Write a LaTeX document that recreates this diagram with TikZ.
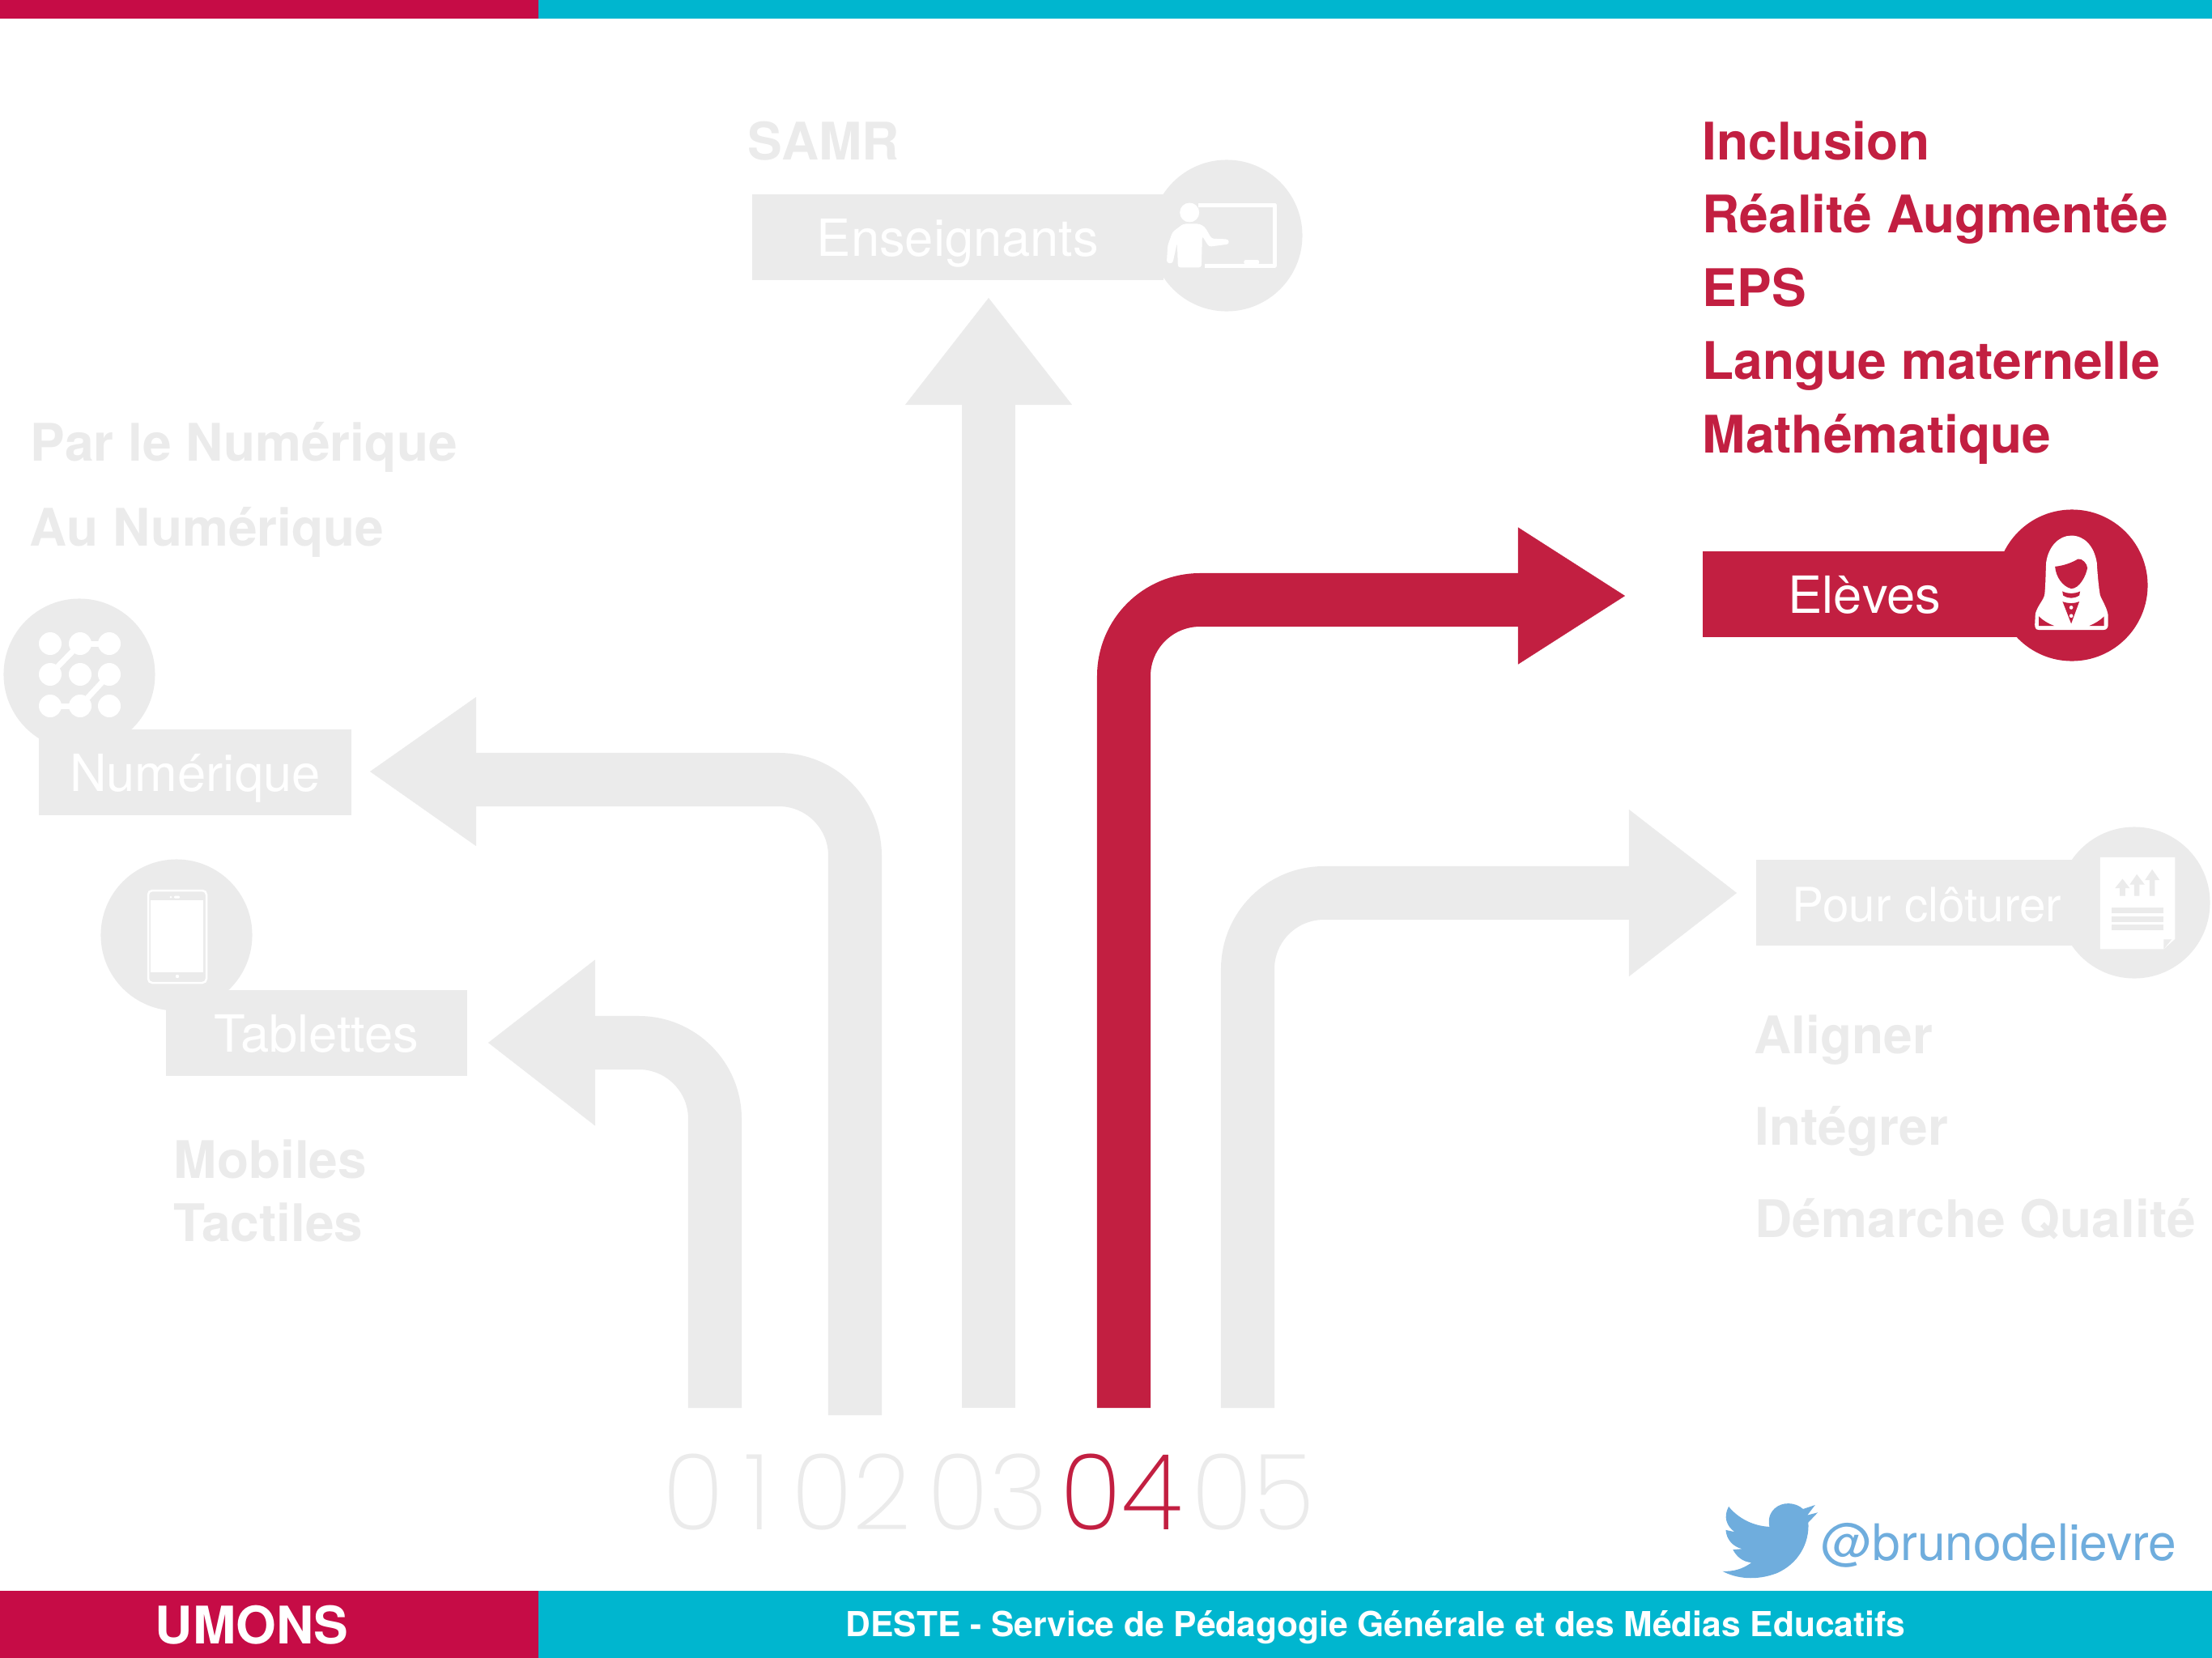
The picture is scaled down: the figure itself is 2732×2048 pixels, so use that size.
\documentclass[tikz,border=0pt]{standalone}
\usepackage{fontspec}
\setmainfont{TeX Gyre Heros}
\newfontfamily\lightfont{Poppins ExtraLight}
\usetikzlibrary{arrows.meta}
\definecolor{UBar}{HTML}{C60C46}
\definecolor{UCyan}{HTML}{00B6CF}
\definecolor{URed}{HTML}{C21F41}
\definecolor{UGrey}{HTML}{EBEBEB}
\definecolor{UBird}{HTML}{6FADDD}
\tikzset{
    labelbox/.style = {rectangle, inner sep=0pt,
        minimum height=1.05cm,
        text height=.47cm, text depth=0pt,
        text=white, font=\fontsize{18}{20}\selectfont},
    badge/.style = {circle, inner sep=0pt, minimum size=1.87cm},
    listitem/.style = {anchor=base west, inner sep=0pt, yshift=.02cm,
        font=\fontsize{18.2}{20}\bfseries\selectfont},
    digit/.style = {anchor=base, inner sep=0pt, xscale=.97, transform shape,
        font=\fontsize{37}{40}\lightfont},
    barshaft/.style = {line width=.66cm, rounded corners=.94cm},
    barhead/.style 2 args = {line width=.1pt, -{Triangle[length=#1,width=#2]}}
}
\begin{document}
\begin{tikzpicture}[x=.01cm,y=-.01cm]
    \useasboundingbox (0,0) rectangle (2732,2048);
    % bands
    \fill[UCyan] (665,0) rectangle (2732,23);
    \fill[UBar] (0,0) rectangle (665,23);
    \fill[UCyan] (665,1965) rectangle (2732,2048);
    \fill[UBar] (0,1965) rectangle (665,2048);
    \node[inner sep=0pt,text=white,font=\fontsize{18.2}{20}\bfseries\selectfont,anchor=base] (umons) at (311,2030) {UMONS};
    \node[inner sep=0pt,text=white,font=\fontsize{12.1}{14}\bfseries\selectfont,anchor=base] (deste) at (1699,2021) {DESTE - Service de Pédagogie Générale et des Médias Educatifs};
    % arrows
    \coordinate (foot1) at (883,1739); \coordinate (bend1) at (883,1288); \coordinate (neck1) at (735,1288); \coordinate (tip1) at (603,1288);
    \coordinate (foot2) at (1056,1748); \coordinate (bend2) at (1056,963); \coordinate (neck2) at (588,963); \coordinate (back2) at (588,953); \coordinate (tip2) at (457,953);
    \coordinate (foot3) at (1221,1739); \coordinate (neck3) at (1221,500); \coordinate (tip3) at (1221,368);
    \coordinate (foot4) at (1388,1739); \coordinate (bend4) at (1388,741); \coordinate (neck4) at (1875,741); \coordinate (back4) at (1875,736); \coordinate (tip4) at (2007,736);
    \coordinate (foot5) at (1541,1739); \coordinate (bend5) at (1541,1103); \coordinate (neck5) at (2012,1103); \coordinate (tip5) at (2145,1103);
    \draw[barshaft,UGrey] (foot1) -- (bend1) -- (neck1);
    \draw[barhead={1.32cm}{2.05cm},UGrey] (neck1) -- (tip1);
    \draw[barshaft,UGrey] (foot2) -- (bend2) -- (neck2);
    \draw[barhead={1.31cm}{1.84cm},UGrey] (back2) -- (tip2);
    \draw[barshaft,UGrey] (foot3) -- (neck3);
    \draw[barhead={1.32cm}{2.06cm},UGrey] (neck3) -- (tip3);
    \draw[barshaft,URed] (foot4) -- (bend4) -- (neck4);
    \draw[barhead={1.32cm}{1.69cm},URed] (back4) -- (tip4);
    \draw[barshaft,UGrey] (foot5) -- (bend5) -- (neck5);
    \draw[barhead={1.33cm}{2.06cm},UGrey] (neck5) -- (tip5);
    % step numbers
    \node[digit,text=UGrey] (n1) at (885,1889) {0\hspace{.2em}1};
    \node[digit,text=UGrey] (n2) at (1051,1889) {02};
    \node[digit,text=UGrey] (n3) at (1220,1889) {03};
    \node[digit,text=URed] (n4) at (1385,1889) {04};
    \node[digit,text=UGrey] (n5) at (1548,1889) {05};
    % badges and their boxes
    \node[badge,fill=UGrey] (ensbadge) at (1515,291) {};
    \node[labelbox,fill=UGrey,minimum width=5.08cm] (ens) at (1183,293) {Enseignants};
    \node[badge,fill=URed] (elebadge) at (2559,723) {};
    \node[labelbox,fill=URed,minimum width=4cm] (ele) at (2303,734) {Elèves};
    \node[badge,fill=UGrey] (numbadge) at (98,833) {};
    \node[labelbox,fill=UGrey,minimum width=3.86cm] (num) at (241,954) {Numérique};
    \node[badge,fill=UGrey] (tabbadge) at (218,1155) {};
    \node[labelbox,fill=UGrey,minimum width=3.72cm] (tab) at (391,1276) {Tablettes};
    \node[badge,fill=UGrey] (clobadge) at (2636,1115) {};
    \node[labelbox,fill=UGrey,minimum width=4.22cm,font=\fontsize{16.6}{20}\selectfont] (clo) at (2380,1115) {Pour clôturer};
    % teacher
    \begin{scope}[shift={(1380,160)},x=.003333cm,y=-.003333cm]
        \draw[white,line width=.05cm,line join=round] (300,280) -- (583,280) -- (583,505) -- (325,505);
        \fill[white,rounded corners=.02cm] (470,500) rectangle (526,484);
        \fill[white] (268,308) circle (36);
        \fill[white,rounded corners=.03cm] (225,365) -- (245,350) -- (305,350) -- (325,362) -- (350,405) -- (412,407) -- (415,425) -- (340,435) -- (315,395) -- (312,512) -- (225,512) -- (222,420) -- (205,497) -- (183,495) -- (187,430) -- (205,380) -- cycle;
    \end{scope}
    % student
    \begin{scope}[shift={(2420,600)},x=.003333cm,y=-.003333cm]
        \fill[white] (295,535) .. controls (282,535) and (280,525) .. (280,515) -- (282,475) .. controls (290,445) and (312,425) .. (316,405) .. controls (320,370) and (320,320) .. (322,285) .. controls (330,225) and (370,185) .. (415,185) .. controls (465,185) and (500,225) .. (510,285) .. controls (512,320) and (516,370) .. (522,405) .. controls (528,425) and (545,445) .. (552,480) -- (552,515) .. controls (552,525) and (548,535) .. (535,535) -- cycle;
        \fill[URed] (355,300) .. controls (385,297) and (415,287) .. (440,272) .. controls (455,268) and (475,290) .. (475,305) .. controls (470,335) and (445,382) .. (415,382) .. controls (385,375) and (358,340) .. (355,300) -- cycle;
        \fill[URed] (382,392) .. controls (405,402) and (425,402) .. (448,392) -- (445,407) .. controls (425,420) and (405,420) .. (385,407) -- cycle;
        \fill[URed] (383,430) .. controls (405,438) and (425,438) .. (445,430) -- (415,512) -- cycle;
        \fill[white] (415,452) circle (7);
        \fill[white] (415,483) circle (7);
        \fill[URed] (295,485) .. controls (310,500) and (330,512) .. (352,520) -- (295,520) -- cycle;
        \fill[URed] (537,485) .. controls (522,500) and (502,512) .. (482,520) -- (537,520) -- cycle;
    \end{scope}
    % dots
    \begin{scope}[white,line width=.07cm]
        \draw (99,795) -- (135,795);
        \draw (99,795) -- (62,833);
        \draw (135,833) -- (99,872);
        \draw (62,872) -- (99,872);
        \foreach \dotx in {62,99,135}
            \foreach \doty in {795,833,872}
                \fill (\dotx,\doty) circle (14);
    \end{scope}
    % tablet
    \draw[white,line width=.025cm,rounded corners=.05cm] (183,1100) rectangle (255,1214);
    \fill[white] (186,1112) rectangle (251,1201);
    \fill[white] (211,1108) circle (1.5);
    \fill[white,rounded corners=.01cm] (215,1106.5) rectangle (222,1109.5);
    \fill[white] (219,1206) circle (2.2);
    % sheet
    \begin{scope}[shift={(2500,1000)},x=.003333cm,y=-.003333cm]
        \fill[white] (282,177) -- (560,177) -- (560,480) -- (518,518) -- (282,518) -- cycle;
        \fill[UGrey] (518,518) -- (518,482) -- (547,482) -- cycle;
        \fill[UGrey] (337,292) -- (365,257) -- (392,292) -- (375,292) -- (375,320) -- (355,320) -- (355,292) -- cycle;
        \fill[UGrey] (392,278) -- (418,240) -- (447,278) -- (428,278) -- (428,320) -- (408,320) -- (408,278) -- cycle;
        \fill[UGrey] (448,262) -- (475,222) -- (503,262) -- (485,262) -- (485,320) -- (465,320) -- (465,262) -- cycle;
        \foreach \liney in {365,396,428}
            \fill[UGrey] (324,\liney) rectangle (516,\liney+21);
    \end{scope}
    % lists
    \node[listitem,text=UGrey] (samr) at (923,199) {SAMR};
    \node[listitem,text=URed] (inclusion) at (2102,199) {Inclusion};
    \node[listitem,text=URed] (realite) at (2102,289) {Réalité Augmentée};
    \node[listitem,text=URed] (eps) at (2102,380) {EPS};
    \node[listitem,text=URed] (langue) at (2102,470) {Langue maternelle};
    \node[listitem,text=URed] (maths) at (2102,561) {Mathématique};
    \node[listitem,text=UGrey] (parle) at (37,571) {Par le Numérique};
    \node[listitem,text=UGrey] (aunum) at (36,676) {Au Numérique};
    \node[listitem,text=UGrey] (mobiles) at (214,1457) {Mobiles};
    \node[listitem,text=UGrey] (tactiles) at (214,1535) {Tactiles};
    \node[listitem,text=UGrey] (aligner) at (2166,1303) {Aligner};
    \node[listitem,text=UGrey] (integrer) at (2167,1416) {Intégrer};
    \node[listitem,text=UGrey] (demarche) at (2167,1530) {Démarche Qualité};
    % twitter
    \begin{scope}[shift={(2100,1820)},x=.004032cm,y=-.003333cm]
        \fill[UBird] (352,117) -- (315,132) .. controls (290,105) and (250,105) .. (228,130) .. controls (210,150) and (208,175) .. (212,198) .. controls (160,195) and (115,165) .. (87,123) .. controls (70,160) and (80,195) .. (105,217) -- (78,210) .. controls (80,245) and (100,272) .. (128,280) -- (100,283) .. controls (112,310) and (130,328) .. (157,331) .. controls (130,355) and (100,365) .. (68,363) .. controls (110,390) and (170,400) .. (235,370) .. controls (300,335) and (335,260) .. (331,182) -- (360,145) -- (328,155) -- cycle;
    \end{scope}
    \node[inner sep=0pt,anchor=base west,text=UBird,font=\fontsize{17.7}{20}\selectfont] (handle) at (2249,1927) {@brunodelievre};
\end{tikzpicture}
\end{document}
